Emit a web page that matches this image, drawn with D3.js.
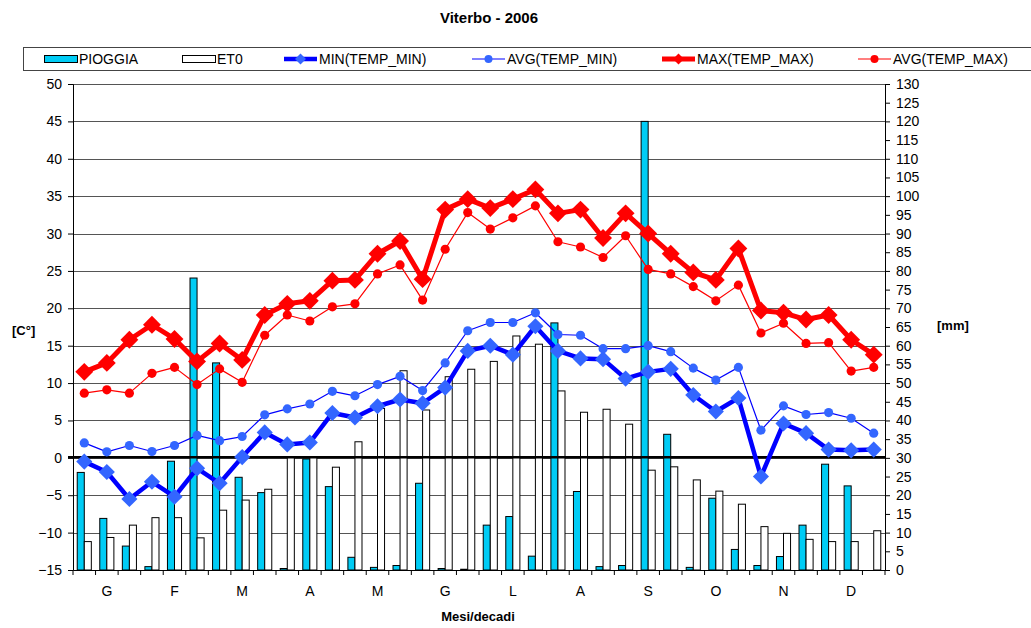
<!DOCTYPE html>
<html>
<head>
<meta charset="utf-8">
<script src="https://cdn.jsdelivr.net/npm/d3@7"></script>
<style>
  body { margin: 0; background: #fff; }
  svg text { font-family: "Liberation Sans", Arial, sans-serif; }
</style>
</head>
<body>
<div id="chart"></div>
<script>
// one entry per decade (10-day period), 3 per month
var decadi = d3.range(36);
var mesi = ["G", "F", "M", "A", "M", "G", "L", "A", "S", "O", "N", "D"];

// rain and reference evapotranspiration [mm]
var pioggia = [26.1, 13.8, 6.4, 0.9, 29.1, 78.1, 55.4, 24.8, 20.7, 0.4, 29.7, 22.3,
               3.4, 0.7, 1.2, 23.2, 0.4, 0.2, 12.0, 14.3, 3.7, 66.1, 21.0, 0.9,
               1.2, 120.0, 36.3, 0.7, 19.2, 5.5, 1.2, 3.6, 12.0, 28.3, 22.5, 0];
var et0 = [7.6, 8.7, 12.0, 14.0, 14.0, 8.6, 16.0, 18.7, 21.6, 30.3, 30.3, 27.5,
           34.3, 43.2, 53.3, 42.8, 51.7, 53.7, 55.8, 62.6, 60.4, 47.9, 42.2, 43.0,
           39.0, 26.7, 27.6, 24.1, 21.1, 17.6, 11.6, 9.8, 8.2, 7.6, 7.6, 10.5];

// temperatures [C]
var minTempMin = [-0.5, -1.9, -5.5, -3.2, -5.2, -1.4, -3.4, 0.1, 3.4, 1.8, 2.05, 6.0,
                  5.4, 6.9, 7.8, 7.3, 9.4, 14.3, 15.0, 13.8, 17.6, 14.3, 13.3, 13.2,
                  10.6, 11.5, 11.9, 8.4, 6.2, 8.0, -2.5, 4.6, 3.3, 1.1, 1.0, 1.1];
var avgTempMin = [2.0, 0.8, 1.65, 0.85, 1.65, 3.0, 2.3, 2.85, 5.75, 6.55, 7.2, 8.9,
                  8.3, 9.8, 10.9, 9.0, 12.7, 17.0, 18.1, 18.1, 19.4, 16.5, 16.4, 14.6,
                  14.6, 15.0, 14.2, 12.0, 10.4, 12.1, 3.7, 6.95, 5.8, 6.05, 5.3, 3.3];
var maxTempMax = [11.5, 12.7, 15.8, 17.8, 15.9, 12.9, 15.3, 13.1, 19.1, 20.6, 21.0, 23.7,
                  23.8, 27.3, 29.0, 23.9, 33.2, 34.6, 33.4, 34.6, 35.9, 32.7, 33.2, 29.4,
                  32.7, 30.0, 27.3, 24.8, 23.8, 28.0, 19.7, 19.4, 18.5, 19.1, 15.8, 13.8];
var avgTempMax = [8.65, 9.1, 8.65, 11.3, 12.1, 9.8, 11.9, 10.1, 16.4, 19.1, 18.3, 20.2,
                  20.6, 24.6, 25.8, 21.1, 27.9, 32.8, 30.6, 32.1, 33.7, 28.9, 28.2, 26.8,
                  29.7, 25.2, 24.6, 22.9, 21.0, 23.1, 16.7, 18.0, 15.3, 15.4, 11.6, 12.1];

var tempTicks = d3.range(-15, 51, 5);
var mmTicks = d3.range(0, 131, 5);


var width = 1031, height = 628;
var margin = {top: 84, right: 146, bottom: 58, left: 73};
var plotW = width - margin.left - margin.right,
    plotH = height - margin.top - margin.bottom;

var svg = d3.select("#chart").append("svg")
    .attr("width", width)
    .attr("height", height);

var x = d3.scaleBand()
    .domain(decadi)
    .range([margin.left, margin.left + plotW]);

// two bars per decade, gap width 60%
var groupW = x.bandwidth() / 1.6;
var xInner = d3.scaleBand()
    .domain(["pioggia", "et0"])
    .range([-groupW / 2, groupW / 2]);

var yT = d3.scaleLinear()
    .domain([-15, 50])
    .range([margin.top + plotH, margin.top]);

var yMM = d3.scaleLinear()
    .domain([0, 130])
    .range([margin.top + plotH, margin.top]);

var cx = function(i) { return x(i) + x.bandwidth() / 2; };

// title
svg.append("text")
    .attr("x", 489)
    .attr("y", 23)
    .attr("text-anchor", "middle")
    .style("font-size", "15px")
    .style("font-weight", "bold")
    .text("Viterbo - 2006");

// gridlines
svg.append("g")
    .selectAll("line")
    .data(tempTicks.slice(1))
    .enter()
  .append("line")
    .attr("x1", margin.left)
    .attr("x2", margin.left + plotW)
    .attr("y1", function(d) { return Math.round(yT(d)) + 0.5; })
    .attr("y2", function(d) { return Math.round(yT(d)) + 0.5; })
    .style("stroke", "#555")
    .style("stroke-width", 1);

// bars
var bars = svg.append("g");
bars.selectAll("rect.pioggia")
    .data(decadi.filter(function(i) { return pioggia[i] > 0; }))
    .enter()
  .append("rect")
    .attr("class", "pioggia")
    .attr("x", function(i) { return cx(i) + xInner("pioggia"); })
    .attr("y", function(i) { return yMM(pioggia[i]); })
    .attr("width", xInner.bandwidth())
    .attr("height", function(i) { return yMM(0) - yMM(pioggia[i]); })
    .style("fill", "#00ccf5")
    .style("stroke", "#000")
    .style("stroke-width", 1);

bars.selectAll("rect.et0")
    .data(decadi)
    .enter()
  .append("rect")
    .attr("class", "et0")
    .attr("x", function(i) { return cx(i) + xInner("et0"); })
    .attr("y", function(i) { return yMM(et0[i]); })
    .attr("width", xInner.bandwidth())
    .attr("height", function(i) { return yMM(0) - yMM(et0[i]); })
    .style("fill", "#fff")
    .style("stroke", "#000")
    .style("stroke-width", 1);

// zero line (category axis crossing)
svg.append("line")
    .attr("x1", margin.left - 5)
    .attr("x2", margin.left + plotW)
    .attr("y1", yT(0) - 0.5)
    .attr("y2", yT(0) - 0.5)
    .style("stroke", "#000")
    .style("stroke-width", 2.5);

// axes
var leftAxis = d3.axisLeft(yT).tickValues(tempTicks).tickSize(5).tickPadding(6);
var gL = svg.append("g")
    .attr("transform", "translate(" + margin.left + ",0)")
    .call(leftAxis);

var rightAxis = d3.axisRight(yMM).tickValues(mmTicks).tickSize(5).tickPadding(6);
var gR = svg.append("g")
    .attr("transform", "translate(" + (margin.left + plotW) + ",0)")
    .call(rightAxis);

var bottomAxis = d3.axisBottom(x).tickSize(0).tickFormat("");
var gB = svg.append("g")
    .attr("transform", "translate(0," + (margin.top + plotH) + ")")
    .call(bottomAxis);

// decade boundary ticks
gB.selectAll("line.sep")
    .data(d3.range(37))
    .enter()
  .append("line")
    .attr("class", "sep")
    .attr("x1", function(i) { return margin.left + i * x.step(); })
    .attr("x2", function(i) { return margin.left + i * x.step(); })
    .attr("y1", 0)
    .attr("y2", 5)
    .style("stroke", "#000");

[gL, gR, gB].forEach(function(g) {
    g.select(".domain").style("stroke", "#000");
    g.selectAll("text").style("font-size", "14px").style("fill", "#000");
    g.selectAll(".tick line").style("stroke", "#000");
});

// month labels
svg.append("g")
    .selectAll("text")
    .data(mesi)
    .enter()
  .append("text")
    .attr("x", function(d, m) { return cx(m * 3 + 1); })
    .attr("y", 596)
    .attr("text-anchor", "middle")
    .style("font-size", "14px")
    .text(function(d) { return d; });

// axis titles
svg.append("text")
    .attr("x", 478).attr("y", 621)
    .attr("text-anchor", "middle")
    .style("font-size", "13px").style("font-weight", "bold")
    .text("Mesi/decadi");

svg.append("text")
    .attr("x", 12).attr("y", 335)
    .style("font-size", "13px").style("font-weight", "bold")
    .text("[C°]");

svg.append("text")
    .attr("x", 937).attr("y", 330)
    .style("font-size", "13px").style("font-weight", "bold")
    .text("[mm]");

// temperature series
var diamond = function(size) {
    return d3.symbol().type(d3.symbolSquare).size(size)();
};
var circle = d3.symbol().type(d3.symbolCircle).size(66)();

var series = [
    {values: minTempMin, line: "#0000ff", marker: "#3366ff", lw: 4.5, shape: diamond(130), rot: 45},
    {values: avgTempMin, line: "#0000ff", marker: "#3366ff", lw: 1.2, shape: circle, rot: 0},
    {values: maxTempMax, line: "#ff0000", marker: "#ff0000", lw: 5, shape: diamond(160), rot: 45},
    {values: avgTempMax, line: "#ff0000", marker: "#ff0000", lw: 1.2, shape: circle, rot: 0}
];

var line = d3.line()
    .x(function(d, i) { return cx(i); })
    .y(function(d) { return yT(d); });

series.forEach(function(s) {
    var g = svg.append("g");
    g.append("path")
        .attr("d", line(s.values))
        .style("fill", "none")
        .style("stroke", s.line)
        .style("stroke-width", s.lw)
        .style("stroke-linejoin", "round");
    g.selectAll("path.m")
        .data(s.values)
        .enter()
      .append("path")
        .attr("class", "m")
        .attr("d", s.shape)
        .attr("transform", function(d, i) {
            return "translate(" + cx(i) + "," + yT(d) + ") rotate(" + s.rot + ")";
        })
        .style("fill", s.marker);
});

// legend
var legend = svg.append("g");
legend.append("rect")
    .attr("x", 23.5).attr("y", 47.5)
    .attr("width", 1020).attr("height", 23)
    .style("fill", "#fff")
    .style("stroke", "#444");

var legendItems = [
    {label: "PIOGGIA", x: 44, type: "bar", fill: "#00ccf5"},
    {label: "ET0", x: 182, type: "bar", fill: "#fff"},
    {label: "MIN(TEMP_MIN)", x: 284, type: "line", s: series[0]},
    {label: "AVG(TEMP_MIN)", x: 472, type: "line", s: series[1]},
    {label: "MAX(TEMP_MAX)", x: 662, type: "line", s: series[2]},
    {label: "AVG(TEMP_MAX)", x: 858, type: "line", s: series[3]}
];

legendItems.forEach(function(d) {
    var g = legend.append("g").attr("transform", "translate(" + d.x + ",59)");
    if (d.type === "bar") {
        g.append("rect")
            .attr("x", 0.5).attr("y", -3.5)
            .attr("width", 33).attr("height", 7)
            .style("fill", d.fill)
            .style("stroke", "#000");
    } else {
        g.append("line")
            .attr("x1", 0).attr("x2", 33)
            .style("stroke", d.s.line)
            .style("stroke-width", d.s.lw);
        g.append("path")
            .attr("d", d.s.rot ? diamond(60) : d3.symbol().type(d3.symbolCircle).size(50)())
            .attr("transform", "translate(16.5,0) rotate(" + d.s.rot + ")")
            .style("fill", d.s.marker);
    }
    g.append("text")
        .attr("x", 35).attr("y", 5)
        .style("font-size", "14px")
        .text(d.label);
});
</script>
</body>
</html>
